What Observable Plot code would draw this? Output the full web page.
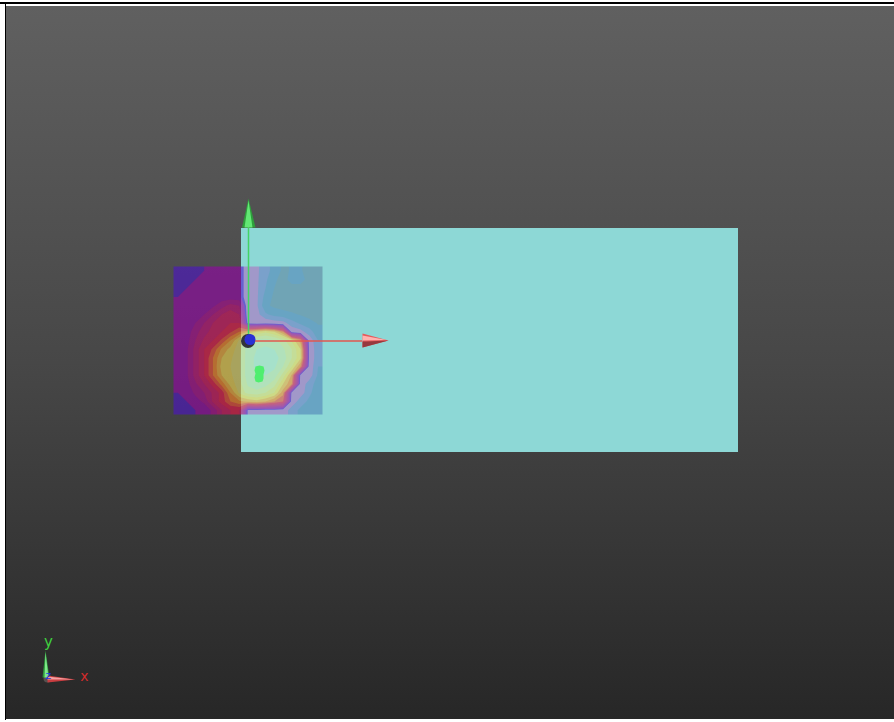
<!DOCTYPE html>
<html>
<head>
<meta charset="utf-8">
<script src="https://cdn.jsdelivr.net/npm/d3@7"></script>
<script src="https://cdn.jsdelivr.net/npm/@observablehq/plot@0.6"></script>
<style>html,body{margin:0;padding:0;background:#fff;overflow:hidden}svg{display:block}</style>
</head>
<body>
<div id="chart"></div>
<script>
// Scene extents, in picture units
const sceneBox = {x1: 6, x2: 894, y1: 6, y2: 719};
const bgStops = [["0%", "#606060"], ["50%", "#474747"], ["100%", "#272727"]];
const cyanPlane = {x1: 241, x2: 738, y1: 228, y2: 452};
const fieldPlane = {x1: 173, x2: 322, y1: 266, y2: 414};

// Scalar field on the small plane (17 x 17)
const fieldRows = [
  [2.8,2.8,2.9,3.0,3.0,3.0,3.1,3.2,2.2,2.1,1.7,1.3,0.9,1.05,1.05,0.8,0.7],
  [2.8,2.8,3.0,3.0,3.0,3.0,3.1,3.2,2.2,2.1,1.6,1.1,0.8,1.2,1.2,0.8,0.7],
  [2.8,3.0,3.0,3.0,3.1,3.1,3.1,3.2,2.2,2.1,1.5,1.0,0.8,0.8,0.8,0.7,0.7],
  [3.0,3.0,3.0,3.1,3.2,3.2,3.2,3.2,2.2,2.1,1.3,0.9,0.7,0.7,0.7,0.7,0.7],
  [3.0,3.0,3.1,3.2,3.4,3.8,4.2,4.0,2.3,2.1,1.1,0.9,0.8,0.7,0.7,0.7,0.7],
  [3.0,3.0,3.2,3.5,4.0,4.5,4.8,4.5,2.3,2.2,1.6,1.3,1.2,1.1,0.95,0.8,0.7],
  [3.0,3.1,3.5,4.0,4.5,4.8,5.0,5.0,2.5,2.4,2.4,2.3,2.2,1.7,1.4,1.2,0.95],
  [3.0,3.2,3.8,4.3,4.7,5.0,5.4,6.0,6.5,7.0,7.4,7.0,6.0,2.4,2.2,1.7,1.2],
  [3.0,3.3,4.0,4.6,5.0,5.6,6.5,7.6,8.6,8.8,8.8,8.6,8.2,7.4,6.2,2.4,1.5],
  [3.0,3.4,4.2,5.0,5.6,6.6,7.2,7.8,8.8,9.0,9.1,9.0,8.6,8.0,7.0,2.5,1.6],
  [3.0,3.4,4.2,5.0,6.0,7.0,7.4,7.9,8.8,9.1,9.2,9.2,8.8,8.0,7.1,2.5,1.6],
  [3.0,3.4,4.2,5.0,6.0,7.2,7.5,7.9,8.8,9.1,9.2,9.1,8.5,7.5,6.0,2.4,1.5],
  [3.0,3.4,4.2,5.0,6.0,7.0,7.4,7.9,8.8,9.0,9.0,8.8,7.8,6.4,2.5,2.3,1.4],
  [3.0,3.3,3.9,4.5,5.2,6.2,7.2,7.8,8.6,8.9,8.7,8.2,7.0,6.0,2.4,1.7,1.3],
  [3.0,3.2,3.6,4.0,4.6,5.2,6.5,7.6,8.2,8.3,8.0,7.5,6.2,2.5,2.3,1.6,1.2],
  [2.8,3.0,3.3,3.6,4.6,5.2,6.0,6.4,6.6,6.8,6.5,6.0,5.5,2.4,1.7,1.4,1.1],
  [2.8,2.8,3.0,3.2,3.6,4.5,5.0,5.0,2.6,2.6,2.5,2.5,2.4,1.7,1.4,1.2,1.0]
];
const fieldThresholds = [0,0.5,1,1.5,2,2.7,3,3.5,4,4.5,5,5.5,6,6.5,7,7.5,8,8.5,9];
const levelDomain = [0,1,1.5,2,2.7,3,4,5,6,7,8,9];
const levelColors = ["#6a8385","#5183b6","#6e7dc3","#b06ec0","#4d13ca","#9602aa","#c30a78","#eb1446","#ff8723","#f8dc50","#dce88e","#b8e8c4"];
const fieldOpacity = 0.6;

// Big axes
const axisOrigin = {x: 248, y: 340.5};
const greenTip = {x: 248, y: 227};
const redTip = {x: 362, y: 340.5};
const greenHeadX = [248, 241.5, 255], greenHeadY = [198, 227, 227];
const greenLightX = [248, 244, 252], greenLightY = [200, 227, 227];
const redHeadX = [388, 362, 362], redHeadY = [340, 333, 347];
const redDarkX = [388, 362, 362, 366], redDarkY = [340, 347, 341, 341];
const redLightX = [386, 362, 362], redLightY = [339.5, 335, 340];
const greenMarkX = [255,259,263,264,263,263,262,258,255,254,255,254], greenMarkY = [366,365,366,370,374,378,381,382,381,377,373,370];

// Small corner triad
const triadGreenX = [45, 42, 49], triadGreenY = [650, 677, 677];
const triadGreenLightX = [45, 44, 48], triadGreenLightY = [652, 677, 677];
const triadRedX = [75, 47, 47], triadRedY = [679, 675, 682];
const triadRedLightX = [73, 47, 47], triadRedLightY = [679, 676, 679];
const triadLabels = [
  {t: "y", x: 48, y: 642, c: "#3fd13f", s: 15},
  {t: "x", x: 84, y: 676, c: "#d22b2b", s: 14},
  {t: "z", x: 48, y: 675, c: "#2430e0", s: 11}
];

const poly = (xs, ys, fill, extra = {}) =>
  Plot.line(xs.map((x, i) => ({x, y: ys[i]})), {x: "x", y: "y", fill, stroke: "none", curve: "linear-closed", ...extra});

const defs = () => {
  const g = d3.create("svg:defs");
  const lg = g.append("linearGradient").attr("id", "bg").attr("x1", 0).attr("x2", 0).attr("y1", 0).attr("y2", 1);
  bgStops.forEach(([o, c]) => lg.append("stop").attr("offset", o).attr("stop-color", c));
  g.append("clipPath").attr("id", "plane").append("rect")
    .attr("x", fieldPlane.x1).attr("y", fieldPlane.y1)
    .attr("width", fieldPlane.x2 - fieldPlane.x1).attr("height", fieldPlane.y2 - fieldPlane.y1);
  return g.node();
};

// Repeat the edge samples once so the bands reach square corners; the plane clip trims them.
const paddedRows = [fieldRows[0], ...fieldRows, fieldRows[fieldRows.length - 1]]
  .map(r => [r[0], ...r, r[r.length - 1]]);
const cellW = (fieldPlane.x2 - fieldPlane.x1) / fieldRows[0].length;
const cellH = (fieldPlane.y2 - fieldPlane.y1) / fieldRows.length;

const chart = Plot.plot({
  width: 894, height: 722,
  margin: 0,
  x: {domain: [0, 894], range: [0, 894], axis: null},
  y: {domain: [0, 722], range: [0, 722], axis: null},
  color: {type: "linear", domain: levelDomain, range: levelColors, interpolate: "rgb", legend: false},
  style: {background: "#fff", overflow: "hidden"},
  marks: [
    defs,
    Plot.rect([sceneBox], {x1: "x1", x2: "x2", y1: "y1", y2: "y2", fill: "url(#bg)"}),
    Plot.rect([{x1: 0, x2: 894, y1: 2, y2: 4}], {x1: "x1", x2: "x2", y1: "y1", y2: "y2", fill: "#000"}),
    Plot.rect([{x1: 5, x2: 6, y1: 2, y2: 720}], {x1: "x1", x2: "x2", y1: "y1", y2: "y2", fill: "#000"}),
    Plot.rect([cyanPlane], {x1: "x1", x2: "x2", y1: "y1", y2: "y2", fill: "#8dd8d6"}),
    Plot.contour(paddedRows.flat(), {
      width: paddedRows[0].length, height: paddedRows.length,
      x1: fieldPlane.x1 - cellW, x2: fieldPlane.x2 + cellW,
      y1: fieldPlane.y1 - cellH, y2: fieldPlane.y2 + cellH,
      fill: Plot.identity, thresholds: fieldThresholds, stroke: "none",
      render(index, scales, values, dimensions, context, next) {
        const g = next(index, scales, values, dimensions, context);
        g.setAttribute("opacity", fieldOpacity);
        g.setAttribute("clip-path", "url(#plane)");
        g.style.filter = "blur(0.7px)";
        return g;
      }
    }),
    poly(greenMarkX, greenMarkY, "#4fee6e"),
    Plot.ruleX([axisOrigin.x], {y1: greenTip.y, y2: axisOrigin.y, stroke: "#43d465", strokeWidth: 1.5}),
    Plot.ruleY([axisOrigin.y], {x1: axisOrigin.x, x2: redTip.x, stroke: "#e2574f", strokeWidth: 1.5}),
    poly(greenHeadX, greenHeadY, "#2e9f3c"),
    poly(greenLightX, greenLightY, "#62e874"),
    poly(redHeadX, redHeadY, "#e85a5c"),
    poly(redDarkX, redDarkY, "#96393f"),
    poly(redLightX, redLightY, "#ffb3b0"),
    Plot.dot([axisOrigin], {x: d => d.x - 0.5, y: "y", r: 7, fill: "#33333a", stroke: "none"}),
    Plot.dot([axisOrigin], {x: d => d.x + 1.5, y: d => d.y - 1.5, r: 5.5, fill: "#2a30d4", stroke: "none"}),
    Plot.dot([{x: 47, y: 678}], {x: "x", y: "y", r: 4, fill: "#55504f", stroke: "none"}),
    poly(triadGreenX, triadGreenY, "#2f9a3c"),
    poly(triadGreenLightX, triadGreenLightY, "#7fe88a"),
    poly(triadRedX, triadRedY, "#c93d40"),
    poly(triadRedLightX, triadRedLightY, "#f3a0a0"),
    Plot.text(triadLabels, {x: "x", y: "y", text: "t", fill: d => d.c, fontSize: d => d.s, fontFamily: "DejaVu Sans", textAnchor: "middle", lineAnchor: "middle"})
  ]
});
document.getElementById("chart").append(chart);
</script>
</body>
</html>
